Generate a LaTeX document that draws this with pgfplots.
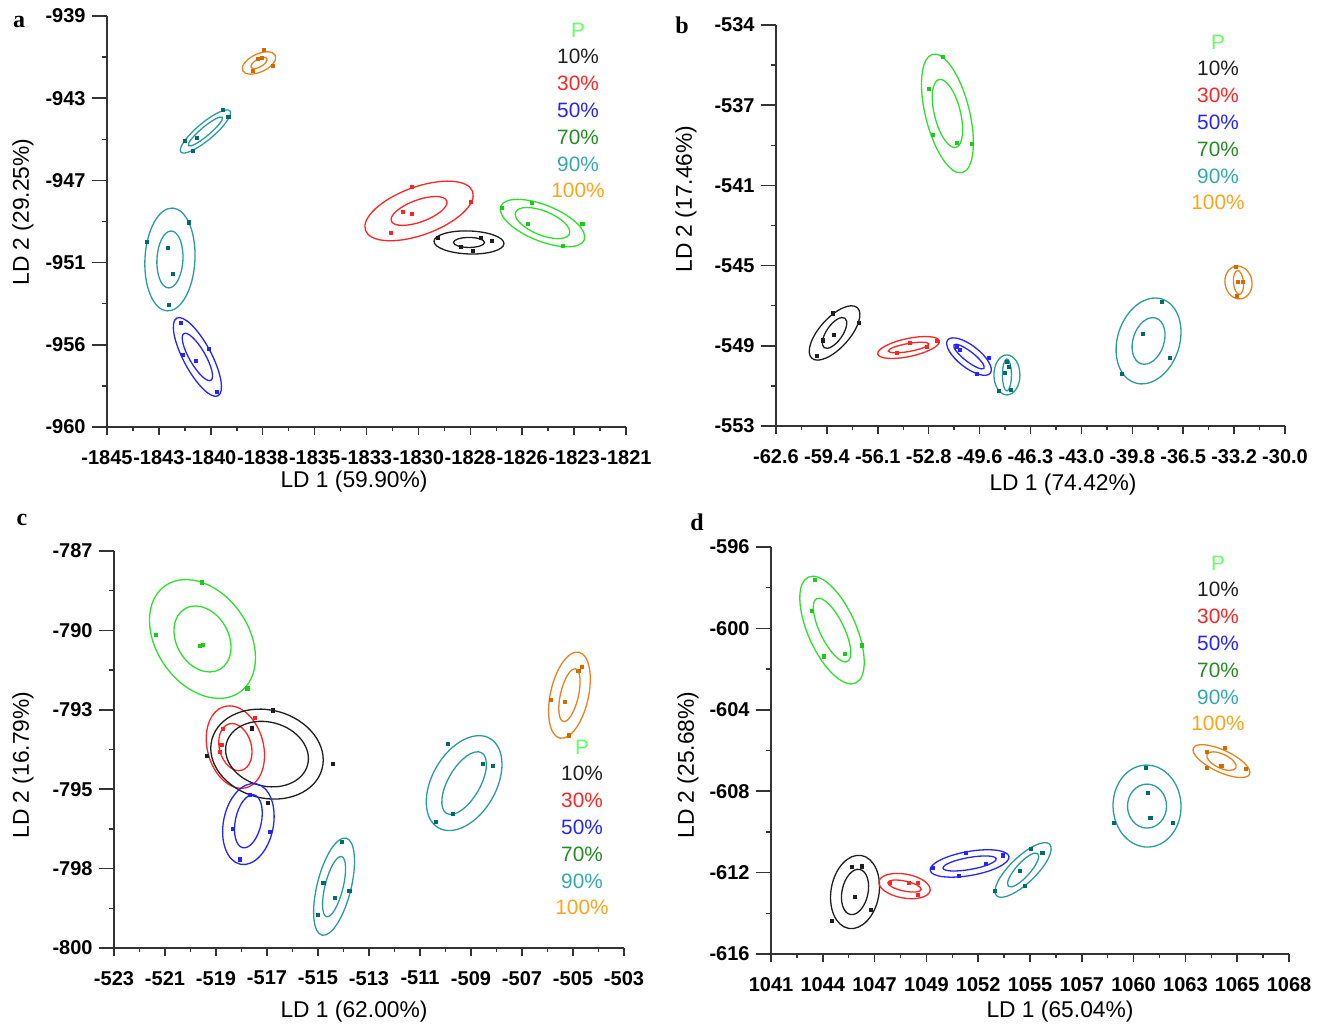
\documentclass[border=0pt]{standalone}
\usepackage{pgfplots}
\pgfplotsset{compat=1.18}
\usepackage{fontspec}
\setmainfont{Liberation Sans}
\newfontfamily\serifb{Liberation Serif}

\definecolor{axg}{HTML}{333333}
\definecolor{cP}{HTML}{2EE02E}
\definecolor{cPd}{HTML}{19CC19}
\definecolor{cPtxt}{HTML}{66FF66}
\definecolor{cK}{HTML}{1E1E1E}
\definecolor{cR}{HTML}{FF2424}
\definecolor{cB}{HTML}{2424FF}
\definecolor{cG}{HTML}{228B22}
\definecolor{cT}{HTML}{2B9C9C}
\definecolor{cTd}{HTML}{006B6B}
\definecolor{cTtxt}{HTML}{33AAAA}
\definecolor{cO}{HTML}{E8821E}
\definecolor{cOd}{HTML}{D46A00}
\definecolor{cOtxt}{HTML}{FFA31A}

\newcommand{\tickfont}{\fontsize{10}{12}\selectfont\bfseries}
\newcommand{\legfont}{\fontsize{10.4}{12}\selectfont}
\newcommand{\labfont}{\fontsize{11.4}{13}\selectfont}

% color, cx, cy, semi-axis a (px), semi-axis b (px), angle (deg)
\newcommand{\ellip}[6]{\draw[#1, line width=0.65pt, rotate around={#6:(axis cs:#2,#3)}] (axis cs:#2,#3) ellipse [x radius={#4*0.5pt}, y radius={#5*0.5pt}];}
\newcommand{\pts}[2]{\addplot[only marks, mark=square*, mark size=0.9pt, color=#1] coordinates {#2};}

\newcommand{\leg}[2]{%
  \foreach \t/\c [count=\i from 0] in {P/cPtxt, 10\%/cK, 30\%/cR, 50\%/cB, 70\%/cG, 90\%/cTtxt, 100\%/cOtxt}{%
    \node[font=\legfont, text=\c, inner sep=0pt] at ({#1*0.5pt}, {-(#2+26.8*\i)*0.5pt}) {\t};}}

\pgfplotsset{ldax/.style={
  anchor=south west, scale only axis, enlargelimits=false, clip=false,
  axis x line=bottom, axis y line=left,
  axis line style={-, line width=0.75pt, draw=axg},
  tick align=outside, major tick length=4pt, minor tick length=2pt, minor tick num=1,
  tick style={line width=0.75pt, draw=axg},
  ytick style={/pgfplots/major tick length=7.5pt, /pgfplots/minor tick length=2.5pt},
  /pgf/number format/assume math mode=true,
  tick label style={font=\tickfont, text=black},
  xticklabel style={yshift=-4pt}, yticklabel style={xshift=-3.2pt},
}}

\begin{document}
\begin{tikzpicture}
\useasboundingbox (0,0) rectangle (663.5pt,-512.5pt);

% ---------------- panel a ----------------
\begin{axis}[ldax, at={(53.5pt,-213.5pt)}, width=259.5pt, height=205.5pt,
  xmin=-1845, xmax=-1821, ymin=-960, ymax=-939,
  xtick={-1845,-1842.6,-1840.2,-1837.8,-1835.4,-1833,-1830.6,-1828.2,-1825.8,-1823.4,-1821},
  xticklabels={-1845,-1843,-1840,-1838,-1835,-1833,-1830,-1828,-1826,-1823,-1821},
  ytick={-960,-955.8,-951.6,-947.4,-943.2,-939},
  yticklabels={-960,-956,-951,-947,-943,-939}]
\ellip{cO}{-1837.97}{-941.40}{18}{9}{25}
\ellip{cO}{-1837.97}{-941.40}{9}{4}{30}
\pts{cOd}{(-1837.74,-940.74) (-1837.32,-941.55) (-1838.25,-941.81) (-1838.02,-941.20) (-1837.83,-941.15)}
\ellip{cT}{-1840.45}{-944.90}{32}{8.5}{40}
\ellip{cT}{-1840.45}{-944.90}{22}{4.5}{40}
\pts{cTd}{(-1839.64,-943.80) (-1839.40,-944.16) (-1841.39,-945.39) (-1841.02,-945.90) (-1840.84,-945.23)}
\ellip{cT}{-1842.09}{-951.44}{51.5}{25}{87}
\ellip{cT}{-1842.09}{-951.44}{28.5}{13}{87}
\pts{cTd}{(-1841.21,-949.53) (-1843.15,-950.55) (-1842.18,-950.85) (-1841.95,-952.18) (-1842.13,-953.77)}
\ellip{cB}{-1840.82}{-956.42}{44}{14}{-62}
\ellip{cB}{-1840.82}{-956.42}{27}{8}{-60}
\pts{cB}{(-1841.58,-954.69) (-1841.49,-956.32) (-1840.88,-956.63) (-1840.28,-956.01) (-1839.91,-958.21)}
\ellip{cR}{-1830.57}{-948.96}{57}{24}{20}
\ellip{cR}{-1830.57}{-948.96}{29.5}{11}{20}
\pts{cR}{(-1830.90,-947.74) (-1828.17,-948.50) (-1831.87,-950.09) (-1831.31,-949.01) (-1830.90,-949.12)}
\ellip{cK}{-1828.26}{-950.57}{35}{11.5}{-2}
\ellip{cK}{-1828.26}{-950.57}{15.5}{5}{0}
\pts{cK}{(-1829.69,-950.34) (-1827.71,-950.34) (-1827.20,-950.50) (-1828.08,-951.01) (-1828.63,-950.80)}
\ellip{cP}{-1824.86}{-949.58}{45}{18}{-22}
\ellip{cP}{-1824.86}{-949.58}{29}{12}{-22}
\pts{cPd}{(-1826.73,-948.81) (-1825.35,-948.55) (-1825.53,-949.63) (-1823.03,-949.63) (-1823.91,-950.75)}
\end{axis}

% ---------------- panel b ----------------
\begin{axis}[ldax, at={(388pt,-213pt)}, width=254.5pt, height=200.5pt,
  xmin=-62.6, xmax=-30, ymin=-553, ymax=-534,
  xtick={-62.6,-59.34,-56.08,-52.82,-49.56,-46.3,-43.04,-39.78,-36.52,-33.26,-30},
  xticklabels={-62.6,-59.4,-56.1,-52.8,-49.6,-46.3,-43.0,-39.8,-36.5,-33.2,-30.0},
  ytick={-553,-549.2,-545.4,-541.6,-537.8,-534},
  yticklabels={-553,-549,-545,-541,-537,-534}]
\ellip{cP}{-51.62}{-538.19}{61}{22}{-76}
\ellip{cP}{-51.62}{-538.19}{35}{13}{-76}
\pts{cPd}{(-51.90,-535.52) (-52.80,-537.03) (-52.55,-539.21) (-51.01,-539.59) (-50.05,-539.64)}
\ellip{cK}{-58.85}{-548.59}{34}{15}{48}
\ellip{cK}{-58.85}{-548.59}{18}{8}{55}
\pts{cK}{(-58.95,-547.65) (-57.28,-548.12) (-58.89,-548.69) (-59.59,-548.93) (-59.97,-549.68)}
\ellip{cR}{-54.11}{-549.28}{31.5}{9}{12}
\ellip{cR}{-54.11}{-549.28}{20.5}{4}{10}
\pts{cR}{(-52.29,-548.97) (-54.02,-549.07) (-54.85,-549.54) (-52.93,-549.26)}
\ellip{cB}{-50.24}{-549.71}{27}{11}{-38}
\ellip{cB}{-50.24}{-549.71}{19}{5}{-38}
\pts{cB}{(-51.01,-549.26) (-50.82,-549.40) (-48.96,-549.78) (-49.73,-550.54)}
\ellip{cT}{-47.81}{-550.58}{20}{13}{90}
\ellip{cT}{-47.81}{-550.58}{16}{4.5}{90}
\pts{cTd}{(-47.81,-549.97) (-47.68,-550.20) (-47.93,-550.49) (-48.32,-551.34) (-47.55,-551.29)}
\ellip{cT}{-38.74}{-548.97}{44}{31}{72}
\ellip{cT}{-38.74}{-548.97}{24}{15.5}{72}
\pts{cTd}{(-37.88,-547.12) (-39.09,-548.64) (-37.37,-549.78) (-40.44,-550.54)}
\ellip{cO}{-32.98}{-546.20}{16.5}{13.5}{100}
\ellip{cO}{-32.98}{-546.20}{12}{5}{95}
\pts{cOd}{(-33.14,-545.47) (-33.01,-546.18) (-32.69,-546.18) (-33.07,-546.84)}
\end{axis}

% ---------------- panel c ----------------
\begin{axis}[ldax, at={(57pt,-474pt)}, width=255pt, height=198.5pt,
  xmin=-523, xmax=-503, ymin=-800, ymax=-787,
  xtick={-523,-521,-519,-517,-515,-513,-511,-509,-507,-505,-503},
  xticklabels={-523,-521,-519,-517,-515,-513,-511,-509,-507,-505,-503},
  ytick={-800,-797.4,-794.8,-792.2,-789.6,-787},
  yticklabels={-800,-798,-795,-793,-790,-787}]
\ellip{cP}{-519.53}{-789.88}{65}{46}{-55}
\ellip{cP}{-519.53}{-789.88}{35}{26}{-60}
\pts{cPd}{(-519.55,-788.02) (-521.35,-789.75) (-519.63,-790.11) (-519.51,-790.08) (-517.78,-791.49)}
\ellip{cR}{-518.24}{-793.42}{42}{28}{-75}
\ellip{cR}{-518.24}{-793.42}{24}{16}{-75}
\pts{cR}{(-517.47,-792.47) (-518.73,-792.83) (-518.80,-793.35) (-518.84,-793.58)}
\ellip{cK}{-517.00}{-793.65}{57}{44}{-15}
\ellip{cK}{-517.00}{-793.65}{42}{32}{-15}
\pts{cK}{(-516.77,-792.21) (-517.59,-792.80) (-519.35,-793.71) (-514.41,-793.97) (-516.96,-795.25)}
\ellip{cB}{-517.73}{-795.94}{41}{25}{79}
\ellip{cB}{-517.73}{-795.85}{27}{13}{78}
\pts{cB}{(-517.67,-794.99) (-518.33,-796.10) (-516.88,-796.20) (-518.06,-797.09)}
\ellip{cT}{-514.37}{-797.99}{50}{17}{76}
\ellip{cT}{-514.37}{-797.99}{31}{9}{76}
\pts{cTd}{(-514.06,-796.53) (-513.78,-798.13) (-514.33,-798.36) (-514.80,-797.87) (-515.00,-798.92)}
\ellip{cT}{-509.27}{-794.60}{51.6}{32}{60}
\ellip{cT}{-509.27}{-794.60}{35}{16}{60}
\pts{cTd}{(-509.90,-793.32) (-508.14,-794.04) (-508.53,-793.97) (-509.71,-795.61) (-510.37,-795.87)}
\ellip{cO}{-505.14}{-791.72}{44}{19}{77.5}
\ellip{cO}{-505.14}{-791.72}{27}{9}{77}
\pts{cOd}{(-504.65,-790.80) (-504.80,-790.93) (-505.86,-791.88) (-505.31,-791.94) (-505.16,-793.03)}
\end{axis}

% ---------------- panel d ----------------
\begin{axis}[ldax, at={(385.5pt,-477pt)}, width=259pt, height=203.5pt,
  xmin=1041, xmax=1068, ymin=-616, ymax=-596,
  xtick={1041,1043.7,1046.4,1049.1,1051.8,1054.5,1057.2,1059.9,1062.6,1065.3,1068},
  xticklabels={1041,1044,1047,1049,1052,1055,1057,1060,1063,1065,1068},
  ytick={-616,-612,-608,-604,-600,-596},
  yticklabels={-616,-612,-608,-604,-600,-596}]
\ellip{cP}{1044.18}{-600.08}{58}{24}{-66}
\ellip{cP}{1044.18}{-600.08}{35}{12}{-64}
\pts{cPd}{(1043.29,-597.62) (1043.14,-599.14) (1045.74,-600.82) (1043.76,-601.36) (1044.86,-601.26)}
\ellip{cK}{1045.38}{-612.95}{37}{24}{80}
\ellip{cK}{1045.38}{-612.95}{23}{13}{78}
\pts{cK}{(1045.22,-611.72) (1045.74,-611.68) (1045.38,-613.20) (1046.21,-613.84) (1044.18,-614.38)}
\ellip{cR}{1047.96}{-612.66}{26}{12}{-10}
\ellip{cR}{1047.96}{-612.66}{17}{5}{-12}
\pts{cR}{(1047.20,-612.51) (1048.19,-612.51) (1048.66,-612.51) (1048.66,-613.10)}
\ellip{cB}{1051.35}{-611.55}{40}{12}{10}
\ellip{cB}{1051.35}{-611.55}{27}{6}{10}
\pts{cB}{(1051.16,-611.04) (1053.09,-611.14) (1052.21,-611.58) (1049.44,-611.77) (1050.80,-612.17)}
\ellip{cT}{1054.14}{-611.87}{37}{13}{44}
\ellip{cT}{1054.14}{-611.87}{22}{7}{48}
\pts{cTd}{(1054.55,-610.84) (1055.13,-611.04) (1053.98,-611.92) (1054.24,-612.66) (1052.68,-612.90)}
\ellip{cT}{1060.60}{-608.73}{41}{34}{92}
\ellip{cT}{1060.60}{-608.73}{22}{19.5}{90}
\pts{cTd}{(1060.55,-606.86) (1060.65,-608.09) (1060.76,-609.32) (1058.88,-609.56) (1061.95,-609.56)}
\ellip{cO}{1064.48}{-606.52}{31}{11}{-25}
\ellip{cO}{1064.48}{-606.52}{16}{7}{-25}
\pts{cOd}{(1063.73,-606.07) (1064.66,-605.88) (1064.46,-606.76) (1063.73,-606.86) (1065.76,-606.91)}
\end{axis}

% axis titles
\node[font=\labfont] at (177pt,-241pt) {LD 1 (59.90\%)};
\node[font=\labfont, rotate=90] at (11.5pt,-106pt) {LD 2 (29.25\%)};
\node[font=\labfont] at (531.5pt,-242.5pt) {LD 1 (74.42\%)};
\node[font=\labfont, rotate=90] at (343pt,-99.5pt) {LD 2 (17.46\%)};
\node[font=\labfont] at (177pt,-506pt) {LD 1 (62.00\%)};
\node[font=\labfont, rotate=90] at (11.5pt,-382.5pt) {LD 2 (16.79\%)};
\node[font=\labfont] at (530pt,-506pt) {LD 1 (65.04\%)};
\node[font=\labfont, rotate=90] at (344pt,-382.5pt) {LD 2 (25.68\%)};

% panel letters
\node[font=\serifb\bfseries\fontsize{12}{14}\selectfont, anchor=base, inner sep=0pt] at (9.5pt,-13.5pt) {a};
\node[font=\serifb\bfseries\fontsize{12}{14}\selectfont, anchor=base, inner sep=0pt] at (341pt,-16.5pt) {b};
\node[font=\serifb\bfseries\fontsize{12}{14}\selectfont, anchor=base, inner sep=0pt] at (11pt,-262.5pt) {c};
\node[font=\serifb\bfseries\fontsize{12}{14}\selectfont, anchor=base, inner sep=0pt] at (348.5pt,-265pt) {d};

% legends
\leg{578}{30}
\leg{1218}{42}
\leg{582}{747}
\leg{1218}{563}
\end{tikzpicture}
\end{document}
